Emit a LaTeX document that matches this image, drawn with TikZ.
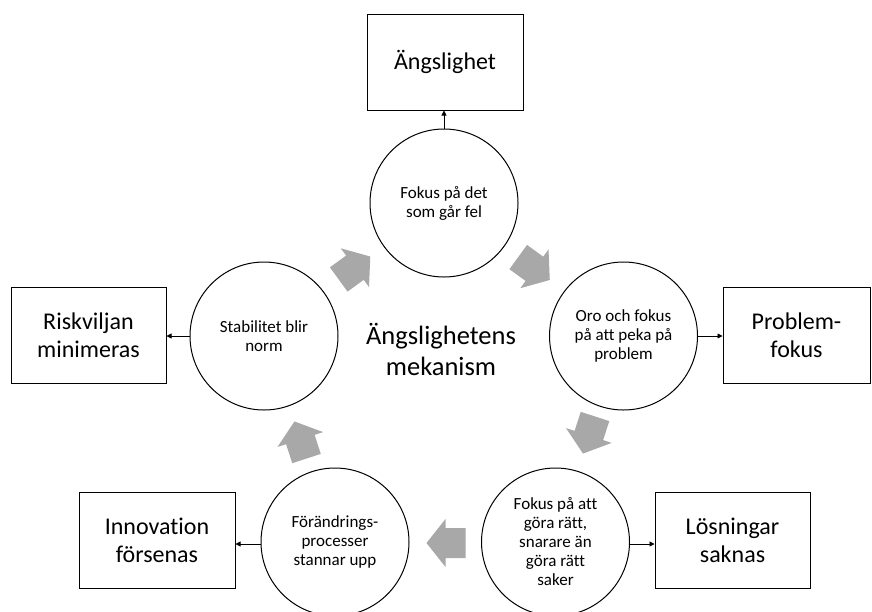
\documentclass[tikz,border=0pt]{standalone}
\usepackage{fontspec}
\setmainfont{Carlito}[Ligatures={NoCommon}]
\usetikzlibrary{arrows.meta}
\definecolor{arrowgray}{RGB}{168,168,168}
\tikzset{
  circ/.style={circle, draw, line width=1pt, minimum size=148pt, inner sep=0pt, align=center, font=\fontsize{17}{19}\selectfont},
  box/.style={rectangle, draw, line width=1pt, minimum width=155pt, minimum height=96pt, inner sep=0pt, align=center, font=\fontsize{24}{28}\selectfont},
  conn/.style={line width=0.8pt, -{Triangle[length=5pt,width=5pt]}},
  blockarrow/.pic={\fill[arrowgray] (-19.5,-15) -- (0.5,-15) -- (0.5,-24) -- (19.5,0) -- (0.5,24) -- (0.5,15) -- (-19.5,15) -- cycle;}
}
\begin{document}
\begin{tikzpicture}[x=1pt,y=-1pt]
\useasboundingbox (0,0) rectangle (872,611);
% circles
\node[circ] (c1) at (444,203) {Fokus på det\\som går fel};
\node[circ] (c2) at (623.5,336) {Oro och fokus\\på att peka på\\problem};
\node[circ] (c3) at (555.5,542) {Fokus på att\\göra rätt,\\snarare än\\göra rätt\\saker};
\node[circ] (c4) at (335,542) {Förändrings-\\processer\\stannar upp};
\node[circ] (c5) at (264,336) {Stabilitet blir\\norm};
% boxes
\node[box, minimum width=156pt] (b1) at (445,62) {Ängslighet};
\node[box, minimum width=147pt] (b2) at (796.5,335) {Problem-\\fokus};
\node[box] (b3) at (732.5,540) {Lösningar\\saknas};
\node[box, minimum width=156pt] (b4) at (157,540) {Innovation\\försenas};
\node[box] (b5) at (88.5,335) {Riskviljan\\minimeras};
% title
\node[align=center, font=\fontsize{26.5}{31}\selectfont] (title) at (441,349) {Ängslighetens\\mekanism};
% connectors
\draw[conn] (c1.north) -- (c1.north |- b1.south);
\draw[conn] (c2.east) -- (c2.east -| b2.west);
\coordinate (c3e) at ([yshift=-2pt]c3.east);
\draw[conn] (c3e) -- (c3e -| b3.west);
\coordinate (c4w) at ([yshift=-2pt]c4.west);
\draw[conn] (c4w) -- (c4w -| b4.east);
\draw[conn] (c5.west) -- (c5.west -| b5.east);
% block arrows
\pic[rotate=36] at (354.5,268) {blockarrow};
\pic[rotate=-36] at (534,268.5) {blockarrow};
\pic[rotate=-108] at (589,435) {blockarrow};
\pic[rotate=180] at (446,543) {blockarrow};
\pic[rotate=108] at (300.5,440) {blockarrow};
\end{tikzpicture}
\end{document}
